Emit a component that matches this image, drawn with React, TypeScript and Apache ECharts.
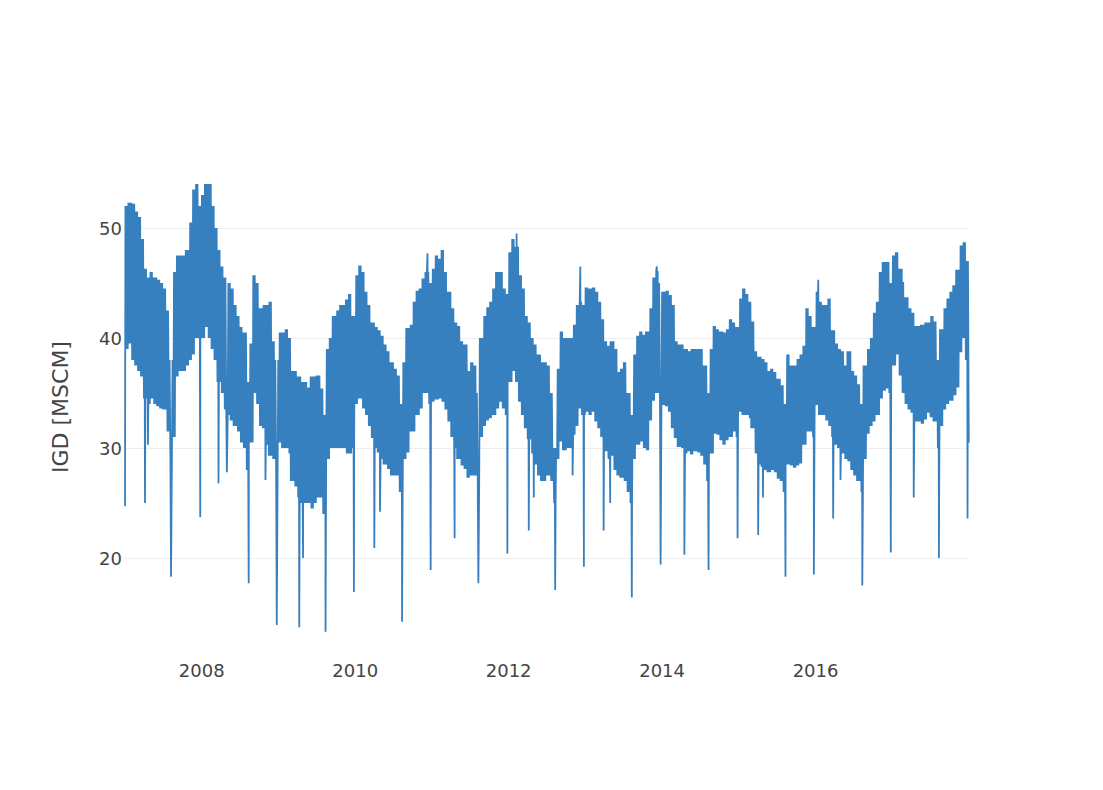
import React, { useEffect, useRef } from "react";
import * as echarts from "echarts";

// Half-monthly upper envelope (mid-week level): 24 values per year, 2007..2017
const highs: number[] = [
  52.0, 52.3, 52.2, 51.5, 51.0, 49.0, 46.3, 45.5, 46.0, 45.5, 45.3, 45.0, 44.5, 42.5, 38.0, 46.0, 47.5, 47.5, 47.5, 48.0, 50.5, 53.5, 54.0, 52.0, // 2007
  53.0, 54.0, 54.0, 52.0, 50.0, 48.0, 46.5, 45.5, 45.0, 44.5, 43.0, 42.0, 41.0, 40.5, 36.0, 39.5, 45.7, 45.0, 42.7, 43.0, 43.0, 43.3, 39.7, 38.0, // 2008
  40.5, 40.5, 40.8, 40.0, 37.0, 37.0, 36.5, 36.0, 36.0, 35.5, 36.5, 36.5, 36.6, 35.4, 33.0, 39.0, 40.0, 42.0, 42.5, 43.0, 43.0, 43.5, 44.0, 42.0, // 2009
  45.7, 46.6, 46.0, 44.2, 43.0, 41.4, 41.0, 40.7, 40.2, 39.4, 38.8, 37.8, 37.2, 36.6, 34.0, 37.8, 40.9, 41.2, 43.3, 44.3, 44.5, 45.4, 46.0, 45.0, // 2010
  46.3, 47.5, 47.2, 48.0, 46.0, 44.2, 42.7, 41.4, 41.1, 39.7, 39.4, 37.0, 37.8, 37.5, 35.0, 40.0, 42.0, 42.8, 43.3, 44.5, 46.0, 46.0, 44.5, 44.0, // 2011
  47.8, 49.0, 48.3, 45.7, 44.5, 42.0, 41.4, 40.0, 39.4, 38.5, 37.8, 37.8, 37.5, 35.0, 30.0, 37.2, 40.6, 40.0, 40.0, 40.0, 41.2, 43.0, 43.3, 43.0, // 2012
  44.6, 44.5, 44.6, 44.2, 43.3, 41.7, 39.7, 39.3, 39.7, 39.0, 36.9, 37.2, 37.8, 35.0, 33.0, 38.5, 40.2, 40.6, 40.3, 40.6, 42.7, 45.5, 46.1, 45.0, // 2013
  44.2, 44.3, 43.9, 43.0, 39.7, 39.4, 39.4, 39.0, 38.8, 39.0, 39.0, 39.0, 39.0, 37.5, 35.0, 39.0, 41.1, 40.8, 40.6, 40.5, 40.8, 41.7, 41.4, 41.0, // 2014
  43.6, 44.5, 44.0, 43.3, 41.5, 38.8, 38.3, 38.1, 37.8, 37.0, 37.2, 36.9, 36.3, 35.7, 34.0, 38.5, 37.5, 37.5, 38.1, 38.5, 39.3, 42.7, 42.0, 41.0, // 2015
  44.2, 43.3, 43.0, 43.0, 43.6, 40.7, 39.5, 39.0, 38.8, 37.5, 38.8, 37.0, 36.6, 35.8, 34.0, 37.5, 39.0, 40.0, 42.3, 43.3, 46.0, 46.9, 46.9, 45.0, // 2016
  47.5, 47.8, 46.3, 45.1, 43.7, 42.7, 42.3, 41.1, 41.1, 41.2, 41.4, 41.4, 42.0, 41.5, 38.0, 40.8, 42.7, 43.6, 44.2, 44.8, 46.2, 48.4, 48.7, 47.0, // 2017
];

// Half-monthly lower envelope (weekend level)
const lows: number[] = [
  39.0, 39.5, 38.0, 37.5, 37.0, 36.5, 34.5, 34.0, 34.5, 34.0, 33.8, 33.6, 33.5, 31.5, 29.0, 31.0, 36.5, 37.0, 37.0, 37.5, 38.0, 38.5, 40.0, 40.0, // 2007
  40.0, 41.0, 40.0, 39.0, 38.0, 36.0, 35.0, 33.5, 33.0, 32.5, 32.0, 31.5, 30.5, 30.0, 28.0, 30.5, 35.0, 34.0, 32.0, 31.8, 30.3, 29.3, 29.0, 28.0, // 2008
  30.5, 30.0, 30.0, 29.5, 27.0, 26.5, 25.5, 25.0, 25.0, 25.0, 24.5, 25.0, 25.5, 25.5, 24.0, 29.0, 30.0, 30.0, 30.0, 30.0, 30.0, 29.5, 29.5, 30.0, // 2009
  34.0, 34.5, 33.6, 33.0, 32.0, 30.9, 30.0, 29.6, 29.0, 28.5, 28.1, 27.5, 27.5, 27.5, 26.0, 29.0, 29.6, 31.5, 31.5, 33.0, 33.6, 35.0, 35.0, 34.0, // 2010
  34.2, 34.4, 34.5, 34.2, 33.5, 32.4, 31.0, 30.0, 29.0, 28.4, 28.1, 27.3, 27.5, 27.5, 27.0, 31.0, 32.0, 32.5, 32.7, 33.0, 33.6, 34.2, 33.6, 33.0, // 2011
  36.0, 37.0, 36.0, 34.2, 33.0, 31.8, 30.8, 29.5, 28.5, 27.5, 27.0, 27.0, 27.5, 27.0, 25.0, 29.0, 30.6, 29.8, 30.0, 30.0, 31.2, 32.0, 33.6, 33.0, // 2012
  33.3, 33.0, 33.3, 32.4, 31.8, 31.0, 29.7, 29.0, 29.3, 28.0, 27.5, 27.3, 27.0, 26.0, 25.0, 29.0, 30.3, 30.6, 30.0, 29.8, 32.5, 34.3, 35.0, 34.0, // 2013
  33.9, 33.8, 33.3, 31.8, 30.9, 30.1, 30.0, 29.5, 29.7, 29.4, 29.7, 29.6, 29.3, 28.5, 27.0, 29.5, 31.3, 31.2, 30.7, 30.3, 30.7, 31.0, 31.5, 31.0, // 2014
  33.3, 33.0, 33.0, 32.7, 31.8, 29.5, 28.5, 28.3, 28.0, 27.8, 28.0, 27.8, 27.2, 27.0, 26.0, 28.5, 28.4, 28.2, 28.4, 28.6, 30.3, 31.5, 31.5, 31.0, // 2015
  33.9, 33.0, 33.0, 32.5, 32.0, 31.0, 30.3, 30.0, 29.5, 29.0, 28.8, 28.0, 27.5, 27.0, 26.0, 29.0, 31.3, 32.0, 32.4, 33.0, 34.5, 35.2, 35.4, 35.0, // 2016
  37.5, 38.5, 36.6, 35.0, 34.0, 33.5, 33.2, 32.4, 32.4, 32.2, 32.6, 33.2, 32.8, 32.4, 30.0, 32.0, 33.5, 34.0, 34.3, 34.8, 35.5, 38.7, 40.0, 38.0, // 2017
];

// Individual days that stand out (holiday dips, spikes)
const events: [string, number][] = [
  ["2007-01-01", 24.7], ["2007-04-06", 25.0], ["2007-04-20", 30.3], ["2007-08-08", 18.3],
  ["2007-12-25", 23.7], ["2008-03-21", 26.8], ["2008-04-30", 27.8], ["2008-08-12", 17.7],
  ["2008-10-31", 27.1], ["2008-12-24", 13.9], ["2009-04-10", 13.7], ["2009-04-28", 20.0],
  ["2009-08-13", 13.3], ["2009-12-26", 16.9], ["2010-04-02", 20.9], ["2010-04-29", 24.2],
  ["2010-08-12", 14.2], ["2010-12-11", 47.7], ["2010-12-26", 18.9], ["2011-04-19", 21.8],
  ["2011-08-10", 17.7], ["2011-12-26", 20.4], ["2012-02-08", 49.5], ["2012-04-06", 22.5],
  ["2012-04-30", 25.5], ["2012-08-10", 17.1], ["2012-11-01", 27.5], ["2012-12-08", 46.5],
  ["2012-12-25", 19.2], ["2013-03-29", 22.5], ["2013-04-29", 25.0], ["2013-08-10", 16.4],
  ["2013-12-07", 46.5], ["2013-12-25", 19.4], ["2014-04-17", 20.3], ["2014-08-10", 18.9],
  ["2014-12-26", 21.8], ["2015-04-03", 22.1], ["2015-04-26", 25.5], ["2015-08-11", 18.3],
  ["2015-12-24", 18.5], ["2016-01-14", 45.3], ["2016-03-25", 23.6], ["2016-04-29", 27.1],
  ["2016-08-11", 17.5], ["2016-12-25", 20.5], ["2017-04-13", 25.5], ["2017-08-11", 20.0],
  ["2017-12-25", 23.6], ["2017-12-31", 30.5],
];

const yTickValues = [20, 30, 40, 50];
const xTickYears = [2008, 2010, 2012, 2014, 2016];
const yTitle = "IGD [MSCM]";

function buildData(): [number, number][] {
  const evMap = new Map<string, number>(events);
  const out: [number, number][] = [];
  const start = Date.UTC(2007, 0, 1);
  const end = Date.UTC(2017, 11, 31);
  for (let t = start; t <= end; t += 86400000) {
    const d = new Date(t);
    const yr = d.getUTCFullYear();
    const mo = d.getUTCMonth();
    const day = d.getUTCDate();
    const key = d.toISOString().slice(0, 10);
    const ys = Date.UTC(yr, 0, 1);
    const ye = Date.UTC(yr + 1, 0, 1);
    const x = yr + (t - ys) / (ye - ys);
    const idx = (yr - 2007) * 24 + mo * 2 + (day > 15 ? 1 : 0);
    const dow = d.getUTCDay();
    if (evMap.has(key)) {
      out.push([x, evMap.get(key) as number]);
    } else if (dow === 3) {
      out.push([x, highs[idx]]);
    } else if (dow === 0) {
      out.push([x, lows[idx]]);
    }
  }
  return out;
}

export default function App() {
  const ref = useRef<HTMLDivElement>(null);
  useEffect(() => {
    document.body.style.margin = "0";
    if (!ref.current) return;
    const chart = echarts.init(ref.current, undefined, { renderer: "svg" });
    const font = "'DejaVu Sans', Verdana, sans-serif";
    chart.setOption({
      animation: false,
      backgroundColor: "#fff",
      grid: { left: 125, right: 134, top: 118, bottom: 122, containLabel: false },
      xAxis: {
        type: "value",
        min: 2007,
        max: 2018,
        interval: 1,
        axisLine: { show: false },
        axisTick: { show: false },
        splitLine: { show: false },
        axisLabel: {
          color: "#444",
          fontFamily: font,
          fontSize: 18,
          margin: -7,
          showMinLabel: false,
          showMaxLabel: false,
          formatter: (v: number) => (xTickYears.includes(Math.round(v)) ? String(Math.round(v)) : ""),
        },
      },
      yAxis: {
        type: "value",
        min: 10,
        max: 60,
        interval: 10,
        axisLine: { show: false },
        axisTick: { show: false },
        splitLine: {
          show: true,
          lineStyle: {
            color: ["rgba(0,0,0,0)", "#eeeeee", "#eeeeee", "#eeeeee", "#eeeeee", "rgba(0,0,0,0)"],
            width: 1,
          },
        },
        axisLabel: {
          color: "#444",
          fontFamily: font,
          fontSize: 18,
          margin: 3,
          formatter: (v: number) => (yTickValues.includes(v) ? String(v) : ""),
        },
      },
      graphic: [
        {
          type: "text",
          x: 60,
          y: 407,
          rotation: Math.PI / 2,
          style: {
            text: yTitle,
            fill: "#444",
            font: `22px ${font}`,
            align: "center",
            verticalAlign: "middle",
          },
        },
      ],
      series: [
        {
          type: "line",
          data: buildData(),
          showSymbol: false,
          symbol: "none",
          lineStyle: { color: "#3780bf", width: 1.8 },
          itemStyle: { color: "#3780bf" },
          z: 3,
        },
      ],
    });
    return () => chart.dispose();
  }, []);
  return <div ref={ref} style={{ width: 1103, height: 790 }} />;
}
